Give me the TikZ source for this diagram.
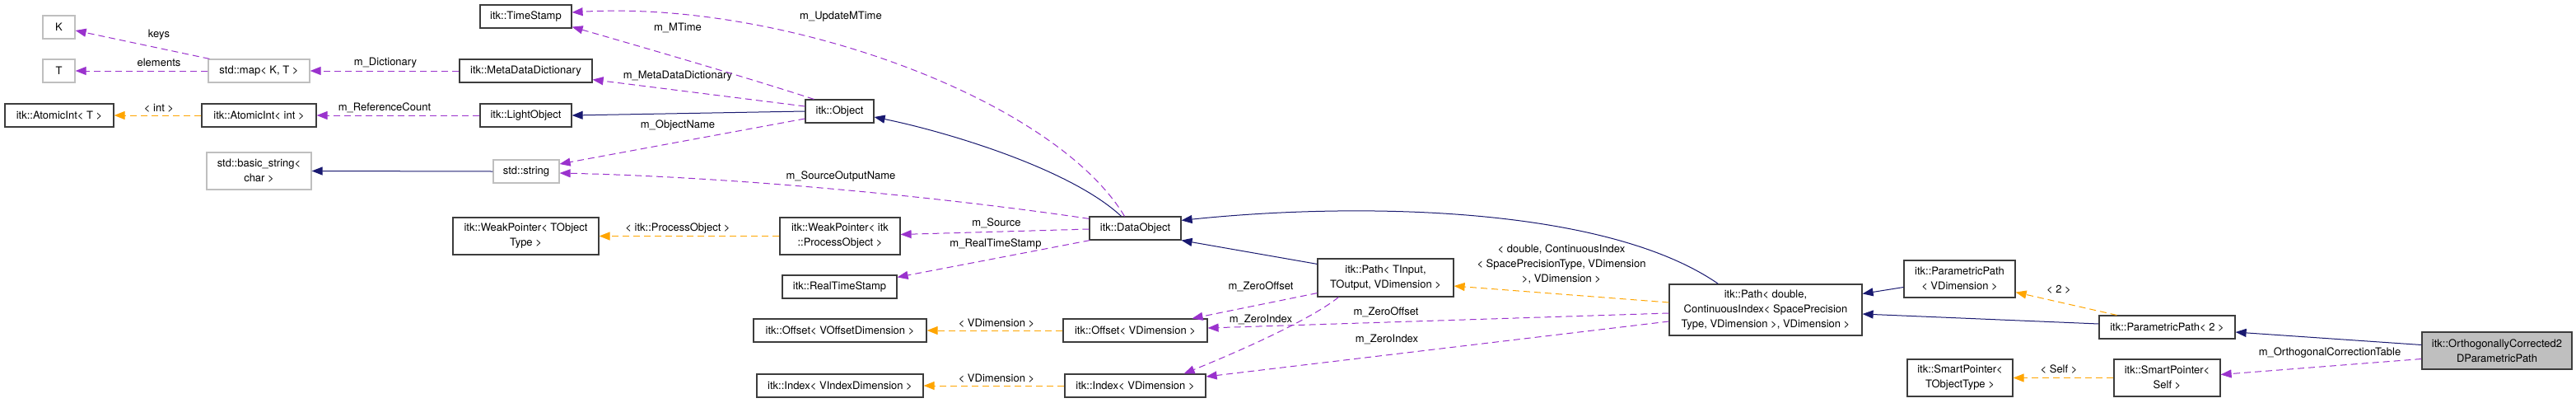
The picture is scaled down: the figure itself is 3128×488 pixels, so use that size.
\documentclass[tikz,border=0pt]{standalone}
\usepackage{fontspec}
\setmainfont{TeX Gyre Heros}
\usetikzlibrary{arrows.meta,calc}
\definecolor{navy}{RGB}{25,25,112}
\definecolor{purp}{RGB}{154,50,205}
\definecolor{orng}{RGB}{255,165,0}
\definecolor{gborder}{RGB}{191,191,191}
\definecolor{dborder}{RGB}{60,60,60}
\definecolor{tfill}{RGB}{191,191,191}
\tikzset{
  base/.style={draw, rectangle, inner sep=0pt, align=center, font=\fontsize{13}{18}\selectfont, line width=1.2pt},
  box/.style={base, draw=dborder},
  gbox/.style={base, draw=gborder},
  titlebox/.style={base, draw=dborder, fill=tfill},
  lbl/.style={inner sep=0pt, align=center, font=\fontsize{13}{18}\selectfont},
  inh/.style={-{Triangle[length=13pt,width=10pt,fill=navy]}, draw=navy, line width=1pt},
  usedash/.style={-{Triangle[length=13pt,width=10pt,fill=purp]}, draw=purp, line width=1pt, dash pattern=on 8pt off 5pt},
  tmpl/.style={-{Triangle[length=13pt,width=10pt,fill=orng]}, draw=orng, line width=1pt, dash pattern=on 8pt off 5pt},
}
\begin{document}
\begin{tikzpicture}[x=1pt,y=-1pt]
\useasboundingbox[fill=white] (0,0) rectangle (3128,488);
% nodes
\node[gbox, minimum width=39pt, minimum height=28pt] (K) at (71.5,33) {K};
\node[gbox, minimum width=39pt, minimum height=28pt] (T) at (71.5,86) {T};
\node[gbox, minimum width=123pt, minimum height=28pt] (map) at (314.5,86) {std::map< K, T >};
\node[box, minimum width=132pt, minimum height=28pt] (aiT) at (72,140) {itk::AtomicInt< T >};
\node[box, minimum width=139pt, minimum height=28pt] (aiint) at (314.5,140) {itk::AtomicInt< int >};
\node[gbox, minimum width=127pt, minimum height=45pt] (bstr) at (314.5,207.5) {std::basic\_string<\\char >};
\node[box, minimum width=111pt, minimum height=28pt] (ts) at (638.5,20) {itk::TimeStamp};
\node[box, minimum width=161pt, minimum height=28pt] (mdd) at (638.5,86) {itk::MetaDataDictionary};
\node[box, minimum width=111pt, minimum height=28pt] (lo) at (638.5,140) {itk::LightObject};
\node[gbox, minimum width=80pt, minimum height=28pt] (str) at (639,208) {std::string};
\node[box, minimum width=177pt, minimum height=45pt] (wpT) at (638.5,286.5) {itk::WeakPointer< TObject\\Type >};
\node[box, minimum width=83pt, minimum height=28pt] (obj) at (1019.5,135) {itk::Object};
\node[box, minimum width=146pt, minimum height=45pt] (wppo) at (1020,286.5) {itk::WeakPointer< itk\\::ProcessObject >};
\node[box, minimum width=139pt, minimum height=28pt] (rts) at (1019.5,348) {itk::RealTimeStamp};
\node[box, minimum width=210pt, minimum height=28pt] (offV) at (1020,401) {itk::Offset< VOffsetDimension >};
\node[box, minimum width=202pt, minimum height=28pt] (idxV) at (1020,468) {itk::Index< VIndexDimension >};
\node[box, minimum width=111pt, minimum height=28pt] (dobj) at (1378.5,277) {itk::DataObject};
\node[box, minimum width=175pt, minimum height=28pt] (off) at (1378.5,401) {itk::Offset< VDimension >};
\node[box, minimum width=171pt, minimum height=28pt] (idx) at (1378.5,468) {itk::Index< VDimension >};
\node[box, minimum width=165pt, minimum height=46pt] (pathT) at (1682.5,337) {itk::Path< TInput,\\ TOutput, VDimension >};
\node[box, minimum width=234pt, minimum height=62pt] (pathD) at (2144,376) {itk::Path< double,\\ContinuousIndex< SpacePrecision\\Type, VDimension >, VDimension >};
\node[box, minimum width=135pt, minimum height=45pt] (ppV) at (2379.5,338.5) {itk::ParametricPath\\< VDimension >};
\node[box, minimum width=165pt, minimum height=28pt] (pp2) at (2631.5,397) {itk::ParametricPath< 2 >};
\node[box, minimum width=128pt, minimum height=45pt] (spT) at (2380,458.5) {itk::SmartPointer<\\TObjectType >};
\node[box, minimum width=129pt, minimum height=45pt] (spS) at (2631.5,458.5) {itk::SmartPointer<\\Self >};
\node[titlebox, minimum width=182pt, minimum height=45pt] (ocp) at (3032,425.5) {itk::OrthogonallyCorrected2\\DParametricPath};
% labels
\node[lbl] (lkeys) at (193,42) {keys};
\node[lbl] (lelem) at (193,76) {elements};
\node[lbl] (ldict) at (468,76) {m\_Dictionary};
\node[lbl] (lint) at (193,131) {< int >};
\node[lbl] (lref) at (467,131) {m\_ReferenceCount};
\node[lbl] (lmtime) at (823,34) {m\_MTime};
\node[lbl] (lmdd) at (823,92) {m\_MetaDataDictionary};
\node[lbl] (lname) at (823,152) {m\_ObjectName};
\node[lbl] (lupd) at (1021,20) {m\_UpdateMTime};
\node[lbl] (lsrcname) at (1021,214) {m\_SourceOutputName};
\node[lbl] (lpo) at (823,277) {< itk::ProcessObject >};
\node[lbl] (lsrc) at (1210,271) {m\_Source};
\node[lbl] (lrts) at (1209,296) {m\_RealTimeStamp};
\node[lbl] (lvd1) at (1210,392) {< VDimension >};
\node[lbl] (lvd2) at (1210,459) {< VDimension >};
\node[lbl] (lzo1) at (1531,348) {m\_ZeroOffset};
\node[lbl] (lzi1) at (1531,388) {m\_ZeroIndex};
\node[lbl] (lzo2) at (1683,379) {m\_ZeroOffset};
\node[lbl] (lzi2) at (1684,412) {m\_ZeroIndex};
\node[lbl] (ldbl) at (1896,321) {< double, ContinuousIndex\\< SpacePrecisionType, VDimension\\>, VDimension >};
\node[lbl] (ltwo) at (2500,351) {< 2 >};
\node[lbl] (lself) at (2500,448) {< Self >};
\node[lbl] (loct) at (2829,428) {m\_OrthogonalCorrectionTable};
% edges
\draw[usedash] ($(map.north west)+(2,0)$) -- ($(K.east)+(0,4)$);
\draw[usedash] (map.west) -- (T.east);
\draw[usedash] (mdd.west) -- (map.east);
\draw[tmpl] (aiint.west) -- (aiT.east);
\draw[usedash] (lo.west) -- (aiint.east);
\draw[inh] (str.west) -- (bstr.east);
\draw[inh] (obj.west) -- (lo.east);
\draw[usedash] ($(obj.north west)+(11,0)$) .. controls (910,95) and (790,60) .. ($(ts.south east)+(0,-2)$);
\draw[usedash] ($(obj.west)+(0,-6)$) -- ($(mdd.south east)+(0,-4)$);
\draw[usedash] ($(obj.west)+(0,9)$) -- ($(str.east)+(0,-9)$);
\draw[usedash] ($(dobj.north)+(-13,0)$) .. controls (1280,120) and (950,0) .. ($(ts.east)+(0,-5)$);
\draw[usedash] ($(dobj.north west)+(0,3)$) .. controls (1150,240) and (900,215) .. ($(str.east)+(0,2)$);
\draw[inh] ($(dobj.north)+(-17,0)$) .. controls (1300,205) and (1150,160) .. ($(obj.east)+(0,7)$);
\draw[usedash] ($(dobj.west)+(0,1)$) -- ($(wppo.east)+(0,-2)$);
\draw[usedash] ($(dobj.south west)+(1,0)$) -- ($(rts.north east)+(0,3)$);
\draw[tmpl] (wppo.west) -- (wpT.east);
\draw[tmpl] (off.west) -- (offV.east);
\draw[tmpl] (idx.west) -- (idxV.east);
\draw[inh] ($(pathT.north west)+(0,7)$) -- (dobj.south east);
\draw[inh] ($(pathD.north west)+(60,0)$) .. controls (1950,250) and (1650,245) .. ($(dobj.north east)+(0,5)$);
\draw[tmpl] ($(pathD.west)+(0,-9)$) -- ($(pathT.east)+(0,10)$);
\draw[usedash] ($(pathD.west)+(0,4)$) -- ($(off.east)+(0,-3)$);
\draw[usedash] ($(pathD.west)+(0,14)$) -- ($(idx.east)+(0,-11)$);
\draw[usedash] ($(pathT.south west)+(0,-5)$) -- ($(off.north east)+(-19,0)$);
\draw[usedash] ($(pathT.south west)+(26,0)$) .. controls (1595,385) and (1520,420) .. ($(idx.north east)+(-27,0)$);
\draw[inh] ($(ppV.west)+(0,10)$) -- ($(pathD.north east)+(0,12)$);
\draw[inh] ($(pp2.west)+(0,-4)$) -- ($(pathD.east)+(0,5)$);
\draw[tmpl] ($(pp2.north west)+(22,0)$) -- ($(ppV.south east)+(0,-7)$);
\draw[tmpl] (spS.west) -- (spT.east);
\draw[inh] ($(ocp.west)+(0,-7)$) -- ($(pp2.east)+(0,6)$);
\draw[usedash] ($(ocp.west)+(0,10)$) -- ($(spS.east)+(0,-4)$);
\end{tikzpicture}
\end{document}
